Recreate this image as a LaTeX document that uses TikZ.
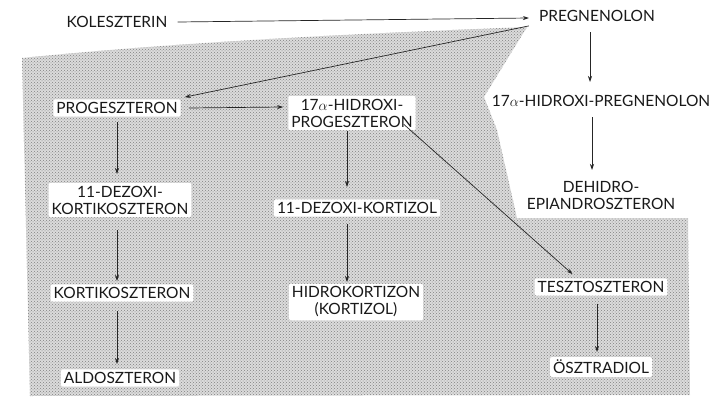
\documentclass[tikz,border=0pt]{standalone}
\usepackage{fontspec}
\setmainfont{Lato}
\usetikzlibrary{arrows.meta,patterns,calc}
\begin{document}
\begin{tikzpicture}[x=1pt,y=-1pt,
  lbl/.style={font=\fontsize{15.5}{17}\selectfont, align=center, inner sep=2pt},
  wlbl/.style={lbl, fill=white, rounded corners=2pt, inner sep=3pt},
  arr/.style={-{Stealth[length=6pt,width=4pt]}, line width=0.7pt, black!85},
  every node/.style={text=black!90}]
\useasboundingbox (0,0) rectangle (716,402);
\fill[white] (0,0) rectangle (716,402);
% stippled region
\fill[black!14] (22,58) .. controls (200,40) and (400,32) .. (527,27)
  -- (484,97) -- (497,130) -- (517,218) -- (688,218) -- (690,395)
  -- (30,396) -- cycle;
\fill[pattern=crosshatch dots, pattern color=black!50] (22,58) .. controls (200,40) and (400,32) .. (527,27)
  -- (484,97) -- (497,130) -- (517,218) -- (688,218) -- (690,395)
  -- (30,396) -- cycle;

% nodes
\node[lbl] (kol) at (117,22) {KOLESZTERIN};
\node[lbl] (preg) at (597,16) {PREGNENOLON};
\node[lbl] (hpreg) at (601,101) {17$\alpha$-HIDROXI-PREGNENOLON};
\node[lbl, inner sep=0pt, fill=white] (dhea) at (601,195) {DEHIDRO-\\EPIANDROSZTERON};
\node[wlbl] (prog) at (117,108) {PROGESZTERON};
\node[wlbl] (hprog) at (352,113) {17$\alpha$-HIDROXI-\\PROGESZTERON};
\node[wlbl] (dkc) at (120,200) {11-DEZOXI-\\KORTIKOSZTERON};
\node[wlbl] (dk) at (357,208) {11-DEZOXI-KORTIZOL};
\node[wlbl] (hk) at (356,302) {HIDROKORTIZON\\(KORTIZOL)};
\node[wlbl] (kk) at (122,293) {KORTIKOSZTERON};
\node[wlbl] (aldo) at (120,378) {ALDOSZTERON};
\node[wlbl] (teszt) at (601,287) {TESZTOSZTERON};
\node[wlbl] (oszt) at (601,367) {ÖSZTRADIOL};

% connector end points
\coordinate (a1) at (590,32);  \coordinate (a2) at (590,82);
\coordinate (b1) at (592,117); \coordinate (b2) at (592,170);
\coordinate (c1) at (117,122); \coordinate (c2) at (117,174);
\coordinate (d1) at (117,230); \coordinate (d2) at (117,281);
\coordinate (e1) at (117,311); \coordinate (e2) at (117,364);
\coordinate (f1) at (347,131); \coordinate (f2) at (347,187);
\coordinate (g1) at (347,224); \coordinate (g2) at (347,282);
\coordinate (h1) at (597,304); \coordinate (h2) at (597,352);

% connectors
\draw[arr] ($(kol.east)+(8,0)$) -- ($(preg.west)+(-8,2)$);
\draw[arr] ($(preg.south west)+(-8,2)$) -- ($(prog.north east)+(4,-2)$);
\draw[arr] (a1) -- (a2);
\draw[arr] (b1) -- (b2);
\draw[arr] ($(prog.east)+(8,0)$) -- ($(hprog.west)+(-5,-6)$);
\draw[arr] (c1) -- (c2);
\draw[arr] (d1) -- (d2);
\draw[arr] (e1) -- (e2);
\draw[arr] (f1) -- (f2);
\draw[arr] (g1) -- (g2);
\draw[arr] ($(hprog.south east)+(-12,-6)$) -- ($(teszt.north west)+(38,-4)$);
\draw[arr] (h1) -- (h2);
\end{tikzpicture}
\end{document}
